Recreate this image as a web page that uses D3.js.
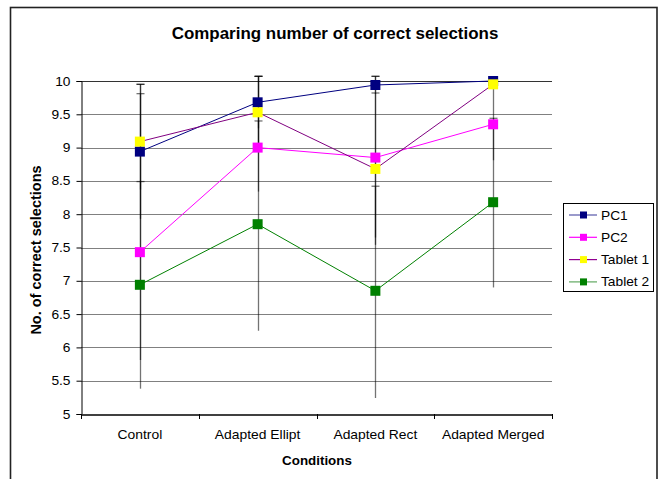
<!DOCTYPE html>
<html><head><meta charset="utf-8">
<script src="https://cdn.jsdelivr.net/npm/d3@7"></script>
<style>body{margin:0;background:#fff}svg{display:block}text{font-family:"Liberation Sans",Arial,sans-serif}</style>
</head><body>
<svg id="c" width="662" height="479"></svg>
<script>
const categories = ["Control","Adapted Ellipt","Adapted Rect","Adapted Merged"];
const seriesNames = ["PC1","PC2","Tablet 1","Tablet 2"];
const pc1 = [8.94, 9.68, 9.94, 10.0];
const pc2 = [7.43, 9.00, 8.85, 9.35];
const tablet1 = [9.09, 9.53, 8.68, 9.95];
const tablet2 = [6.94, 7.85, 6.85, 8.18];
const pc1ErrPlus = [1.01, 0.39, 0.13, 0.0];
const pc1ErrMinus = [1.01, 0.39, 0.13, 0.0];
const pc2ErrPlus = [2.52, 1.07, 1.22, 0.54];
const pc2ErrMinus = [1.62, 0.66, 1.20, 0.54];
const tablet1ErrPlus = [0.72, 0.54, 1.14, 0.05];
const tablet1ErrMinus = [0.72, 0.54, 1.14, 0.05];
const tablet2ErrPlus = [1.55, 1.55, 1.57, 1.26];
const tablet2ErrMinus = [1.56, 1.60, 1.61, 1.28];
const yTicks = [5,5.5,6,6.5,7,7.5,8,8.5,9,9.5,10];
const lineColors = ["#000080","#FF00FF","#800080","#008000"];
const markerColors = ["#000080","#FF00FF","#FFFF00","#008000"];
const legendLineColors = ["#5858a8","#FF00FF","#900090","#60a860"];

const plusErr = [pc1ErrPlus,pc2ErrPlus,tablet1ErrPlus,tablet2ErrPlus];
const minusErr = [pc1ErrMinus,pc2ErrMinus,tablet1ErrMinus,tablet2ErrMinus];
const series = [pc1,pc2,tablet1,tablet2].map((v,i)=>({name:seriesNames[i],values:v,plus:plusErr[i],minus:minusErr[i],line:lineColors[i],marker:markerColors[i]}));

function stretch(sel, sx){
  sel.each(function(){
    const t=d3.select(this);
    const x0=+t.attr("x")||0, y0=+t.attr("y")||0;
    t.attr("x",0).attr("y",0).attr("transform",`translate(${x0},${y0}) scale(${sx},1)`);
  });
}

const svg = d3.select("#c");
svg.append("rect").attr("x",10.5).attr("y",7.5).attr("width",646.5).attr("height",520)
  .attr("fill","none").attr("stroke","#222").attr("stroke-width",1.6);

const L=81, R=552, T=81, B=414;
const x = d3.scaleBand().domain(categories).range([L,R]);
const y = d3.scaleLinear().domain([5,10]).range([B,T]);

svg.append("g").selectAll("line").data(yTicks.filter(t=>t>5)).join("line")
  .attr("x1",L).attr("x2",R).attr("y1",d=>Math.round(y(d))+0.5).attr("y2",d=>Math.round(y(d))+0.5)
  .attr("stroke",d=>d===10?"#333":"#808080").attr("stroke-width",1);

const ya = svg.append("g").attr("transform",`translate(${L+0.5},0)`)
  .call(d3.axisLeft(y).tickValues(yTicks).tickSize(5).tickPadding(6).tickFormat(d=>String(d)));
ya.select(".domain").attr("stroke","#000");
ya.selectAll(".tick line").attr("stroke","#000");
ya.selectAll("text").attr("font-size",12.5).attr("fill","#000");
stretch(ya.selectAll("text"),1.1);

const xa = svg.append("g").attr("transform",`translate(0,${B+0.5})`)
  .call(d3.axisBottom(x).tickSize(0).tickPadding(16));
xa.select(".domain").attr("stroke","#000").attr("stroke-width",1.5);
xa.selectAll("text").attr("font-size",12.5).attr("fill","#000");
stretch(xa.selectAll("text"),1.11);
const bounds = categories.map(c=>x(c)).concat([R]);
svg.append("g").selectAll("line").data(bounds).join("line")
  .attr("x1",d=>Math.round(d)+0.5).attr("x2",d=>Math.round(d)+0.5).attr("y1",B).attr("y2",B+5).attr("stroke","#000");

const cx = c => x(c)+x.bandwidth()/2;

const eb = svg.append("g");
series.forEach(s=>{
  s.values.forEach((v,i)=>{
    const ep=s.plus[i], em=s.minus[i]; if(!ep && !em) return;
    const xx=Math.round(cx(categories[i]))+0.5;
    const g=eb.append("g").attr("stroke","#000").attr("stroke-opacity",0.55).attr("stroke-width",1.3).attr("fill","none");
    g.append("line").attr("x1",xx).attr("x2",xx).attr("y1",y(v+ep)).attr("y2",y(v-em));
    g.append("line").attr("x1",xx-4).attr("x2",xx+4).attr("y1",y(v+ep)).attr("y2",y(v+ep));
  });
});

const line = d3.line().x((d,i)=>cx(categories[i])).y(d=>y(d));
series.forEach(s=>{
  svg.append("path").attr("d",line(s.values)).attr("fill","none").attr("stroke",s.line).attr("stroke-width",1);
});
series.forEach(s=>{
  svg.append("g").selectAll("rect").data(s.values).join("rect")
    .attr("x",(d,i)=>cx(categories[i])-5).attr("y",d=>y(d)-5).attr("width",10).attr("height",10)
    .attr("fill",s.marker);
});

const title = svg.append("text").attr("x",335).attr("y",39).attr("text-anchor","middle")
  .attr("font-size",16).attr("font-weight","bold").text("Comparing number of correct selections");
stretch(title,1.06);
const xt = svg.append("text").attr("x",317).attr("y",465).attr("text-anchor","middle")
  .attr("font-size",12.5).attr("font-weight","bold").text("Conditions");
stretch(xt,1.07);
svg.append("text").attr("transform","translate(41,250) rotate(-90)").attr("text-anchor","middle")
  .attr("font-size",14.5).attr("font-weight","bold").text("No. of correct selections");

const lg = svg.append("g");
lg.append("rect").attr("x",563.5).attr("y",203.5).attr("width",90).attr("height",88)
  .attr("fill","#fff").attr("stroke","#000");
series.forEach((s,i)=>{
  const yy = 215 + i*22.3;
  lg.append("line").attr("x1",569).attr("x2",597).attr("y1",yy).attr("y2",yy).attr("stroke",legendLineColors[i]).attr("stroke-width",1.2);
  lg.append("rect").attr("x",580).attr("y",yy-3.5).attr("width",7).attr("height",7).attr("fill",s.marker);
  const t = lg.append("text").attr("x",601).attr("y",yy+4.5).attr("font-size",12.5).text(s.name);
  stretch(t,1.1);
});
</script>
</body></html>
